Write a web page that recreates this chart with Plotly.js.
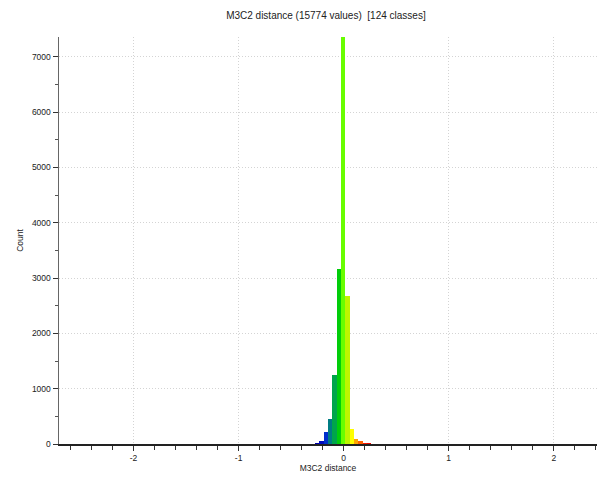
<!DOCTYPE html>
<html>
<head>
<meta charset="utf-8">
<script src="https://cdn.plot.ly/plotly-3.0.1.min.js"></script>
<style>html,body{margin:0;padding:0;background:#fff;}#chart{width:598px;height:479px;}</style>
</head>
<body>
<div id="chart"></div>
<script>
// Histogram of M3C2 distance: 124 classes between data min and max
const xMin = -2.709;
const xMax = 2.411;
const nClasses = 124;
const totalValues = 15774;

// counts per class (left to right)
const leftTail = [
  1,0,0,0,0,1,0,0,0,1,
  0,1,2,1,1,0,1,0,1,0,
  1,0,1,0,1,1,0,1,0,1,
  1,1,0,1,1,2,1,1,2,1,
  1,2,1,2,2,1,2,3,2,3,
  2,3,3,4,3,4,5,6,8,12
];
const core = [50,222,447,1248,3165,7360,2682,266,90,55,25];
const rightTail = [
  14,9,6,5,4,3,3,2,3,2,2,1,2,1,1,1,0,1,
  0,1,0,0,1,0,0,1,0,0,0,1,0,0,0,1,0,0,0,0,1,0,0,0,0,0,1,0,0,0,0,0,0,0,1
];
const counts = leftTail.concat(core, rightTail);

// x tick labels
const xTickVals = [-2, -1, 0, 1, 2];
const xTickText = ['-2', '-1', '0', '1', '2'];

// colour scale of the scalar field (value -> colour)
const colorStops = [
  [-0.26,  'rgb(0,0,170)'],
  [-0.211, 'rgb(0,10,190)'],
  [-0.170, 'rgb(0,45,205)'],
  [-0.128, 'rgb(0,125,130)'],
  [-0.087, 'rgb(0,165,75)'],
  [-0.046, 'rgb(0,205,10)'],
  [-0.004, 'rgb(105,255,0)'],
  [0.037,  'rgb(190,245,0)'],
  [0.078,  'rgb(255,255,0)'],
  [0.120,  'rgb(255,165,0)'],
  [0.161,  'rgb(255,95,0)'],
  [0.202,  'rgb(250,25,0)'],
  [0.26,   'rgb(230,0,0)']
];

const binW = (xMax - xMin) / nClasses;
const centers = counts.map((_, i) => xMin + (i + 0.5) * binW);
const cMin = colorStops[0][0], cMax = colorStops[colorStops.length - 1][0];
const colorscale = colorStops.map(s => [(s[0] - cMin) / (cMax - cMin), s[1]]);

const font = "'Liberation Sans', Arial, sans-serif";
const yMax = Math.max(...counts);

Plotly.newPlot('chart', [{
  type: 'bar',
  x: centers,
  y: counts,
  width: binW,
  marker: {
    color: centers,
    colorscale: colorscale,
    cmin: cMin,
    cmax: cMax,
    showscale: false,
    line: {width: 0}
  },
  hoverinfo: 'x+y'
}], {
  width: 598,
  height: 479,
  margin: {l: 59, r: 1, t: 37, b: 35},
  paper_bgcolor: '#fff',
  plot_bgcolor: '#fff',
  bargap: 0,
  showlegend: false,
  title: {
    text: 'M3C2 distance (' + totalValues + ' values)  [' + nClasses + ' classes]',
    font: {family: font, size: 10, color: '#222'},
    x: 0.545, xanchor: 'center', y: 0.968, yanchor: 'middle'
  },
  xaxis: {
    range: [xMin, xMax],
    tickmode: 'array', tickvals: xTickVals, ticktext: xTickText,
    ticks: 'outside', ticklen: 5, tickcolor: '#333', tickwidth: 1,
    minor: {dtick: 0.2, tick0: 0, ticks: 'outside', ticklen: 4, tickcolor: '#333', showgrid: false},
    showgrid: true, gridcolor: '#d4d4d4', griddash: '1px,2px', gridwidth: 1,
    zeroline: false,
    showline: true, linecolor: '#222', linewidth: 1.5,
    tickfont: {family: font, size: 8.5, color: '#222'},
    title: {text: 'M3C2 distance', font: {family: font, size: 8.5, color: '#222'}, standoff: 3}
  },
  yaxis: {
    range: [0, yMax],
    tick0: 0, dtick: 1000,
    ticks: 'outside', ticklen: 5, tickcolor: '#333', tickwidth: 1,
    minor: {dtick: 500, ticks: 'outside', ticklen: 3, tickcolor: '#555', showgrid: false},
    showgrid: true, gridcolor: '#d4d4d4', griddash: '1px,2px', gridwidth: 1,
    zeroline: false,
    showline: true, linecolor: '#666', linewidth: 1.5,
    tickfont: {family: font, size: 8.5, color: '#222'},
    title: {text: 'Count', font: {family: font, size: 8.5, color: '#222'}, standoff: 7}
  }
}, {displayModeBar: false, staticPlot: true});
</script>
</body>
</html>
